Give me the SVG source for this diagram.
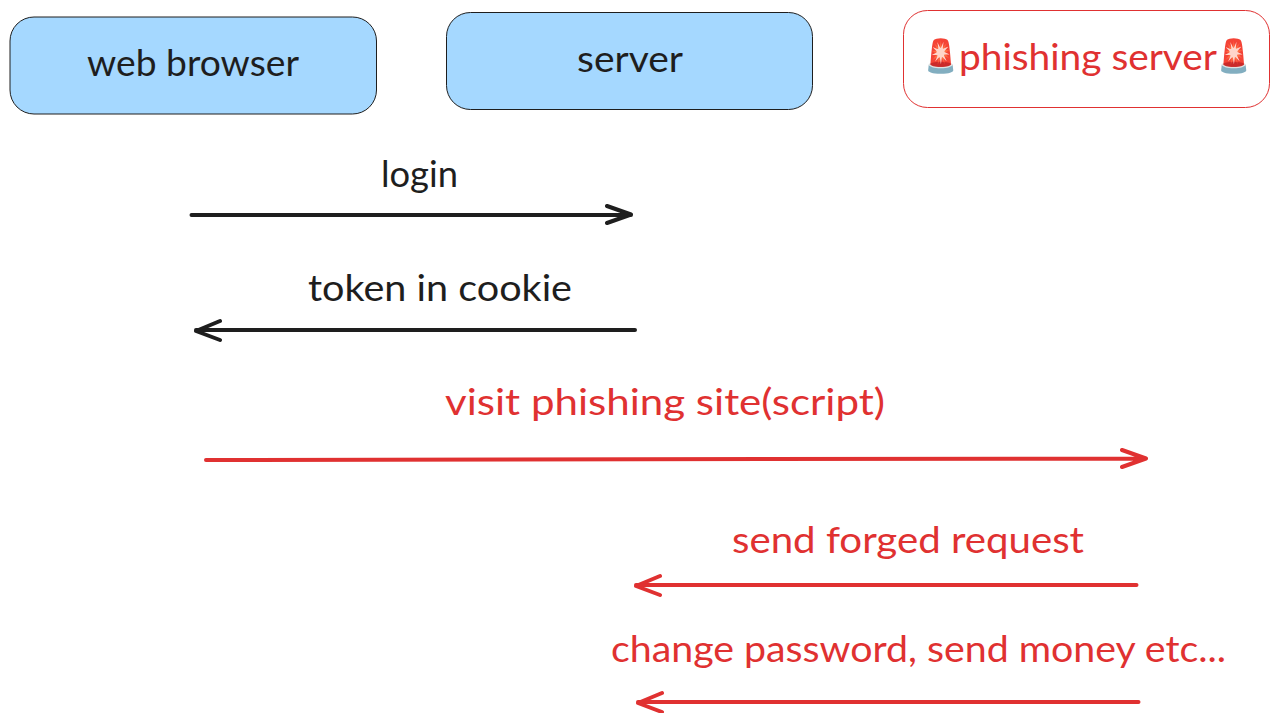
<svg xmlns="http://www.w3.org/2000/svg" width="1279" height="713" viewBox="0 0 1279 713">
<style>
text{font-family:"Lato","Noto Sans",sans-serif;font-size:36px}
.k{fill:#1e1e1e}.r{fill:#e03131}
.e{font-size:28px}
.box{fill:#a5d8ff;stroke:#1e1e1e;stroke-width:1}
.rbox{fill:#fff;stroke:#e03131;stroke-width:1}
.ln{fill:none;stroke-width:4;stroke-linecap:round;stroke-linejoin:round}
.ks{stroke:#1e1e1e}.rs{stroke:#e03131}
</style>
<rect width="1279" height="713" fill="#fff"/>
<g id="web-browser"><rect class="box" x="10" y="17" width="366.500" height="97" rx="24"/><text class="k" x="87" y="76" textLength="212" lengthAdjust="spacingAndGlyphs">web browser</text></g>
<g id="server"><rect class="box" x="446.500" y="12.500" width="366" height="97" rx="24"/><text class="k" x="577" y="72" textLength="106" lengthAdjust="spacingAndGlyphs">server</text></g>
<g id="phishing-server"><rect class="rbox" x="903.500" y="10.500" width="366" height="97" rx="24"/><text class="r e" transform="translate(925 67) scale(.9 1.15)">🚨</text><text class="r" x="959" y="70" textLength="258" lengthAdjust="spacingAndGlyphs">phishing server</text><text class="r e" transform="translate(1218 67) scale(.9 1.15)">🚨</text></g>
<g id="connectors">
<path class="ln ks" d="M191.500 215H631M607 206L631 214.500L607 223"/>
<path class="ln ks" d="M635 330H196M220 321L196 331L220 340"/>
<path class="ln rs" d="M206 460L1146 458.500M1122 450L1146 458.500L1122 467"/>
<path class="ln rs" d="M1136.500 585H636M660 576L636 586L660 595"/>
<path class="ln rs" d="M1138.500 702H638M662 693L638 703L662 712"/>
</g>
<text class="k" x="381" y="187" textLength="77" lengthAdjust="spacingAndGlyphs">login</text>
<text class="k" x="308" y="301" textLength="264" lengthAdjust="spacingAndGlyphs">token in cookie</text>
<text class="r" x="445" y="415" textLength="440" lengthAdjust="spacingAndGlyphs">visit phishing site(script)</text>
<text class="r" x="732" y="553" textLength="352" lengthAdjust="spacingAndGlyphs">send forged request</text>
<text class="r" x="611" y="662" textLength="615" lengthAdjust="spacingAndGlyphs">change password, send money etc...</text>
</svg>
